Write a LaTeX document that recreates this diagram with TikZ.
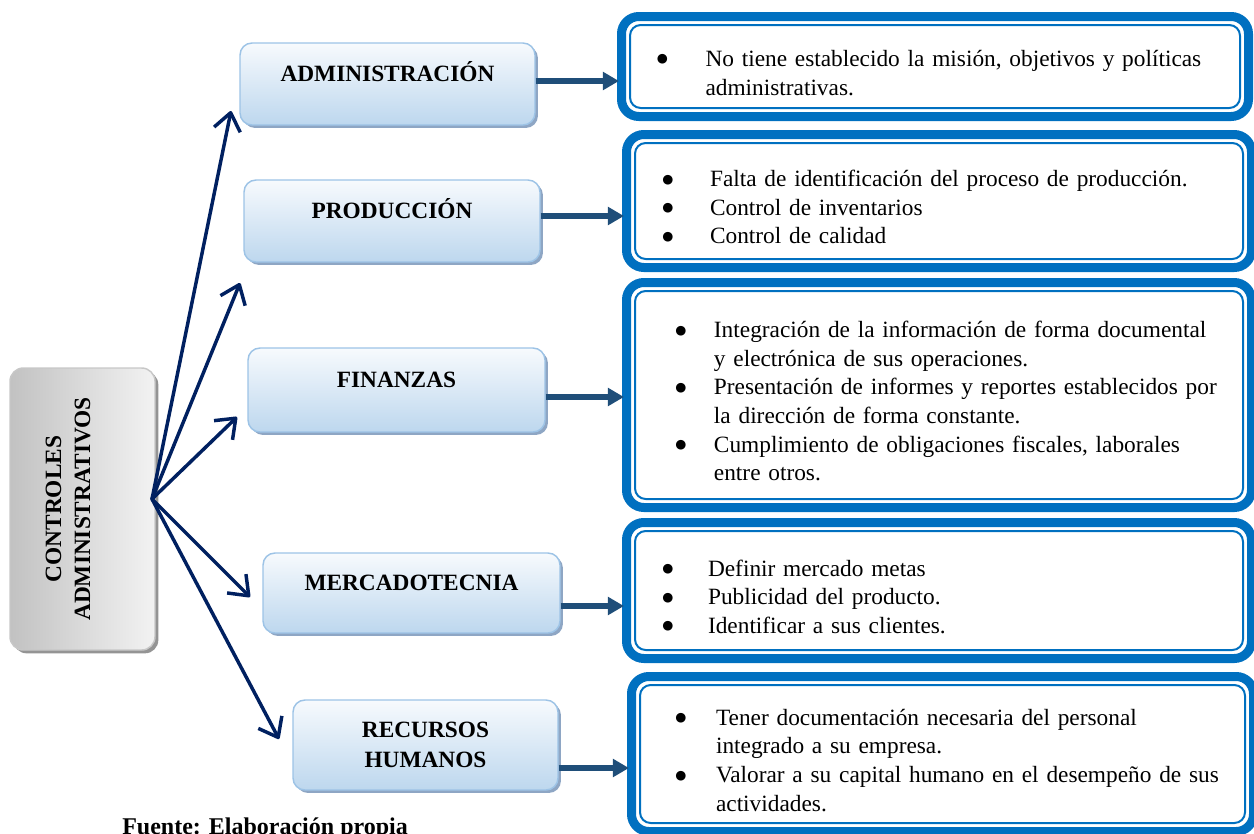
\documentclass[tikz,border=0pt]{standalone}
\usepackage{fontspec}
\setmainfont{Liberation Serif}
\newfontfamily\bulfont{DejaVu Sans}
\usetikzlibrary{arrows.meta,shadows,calc}
\definecolor{navy}{HTML}{002060}
\definecolor{steel}{HTML}{1F4E79}
\definecolor{boxblue}{HTML}{0070C0}
\definecolor{lbtop}{HTML}{F7FAFD}
\definecolor{lbbot}{HTML}{BDD7EE}
\definecolor{lbline}{HTML}{9DC3E6}
\definecolor{lbshadow}{HTML}{8EA6C4}
\newcommand{\bigbul}{\raisebox{2.6pt}{\bulfont\fontsize{9.5pt}{9.5pt}\selectfont ●}}
\newcommand{\bitem}[2]{\par\hangindent=#1\hangafter=1\noindent\makebox[#1][l]{\bigbul}#2}
\begin{document}
\begin{tikzpicture}[x=0.75pt,y=-0.75pt,
  cat/.style={draw=lbline, line width=1.1pt, rounded corners=9pt,
    top color=lbtop, bottom color=lbbot,
    drop shadow={shadow xshift=2.2pt, shadow yshift=-2.2pt, fill=lbshadow, opacity=1},
    font=\bfseries\fontsize{17.5pt}{22.5pt}\selectfont, inner sep=0pt},
  catone/.style={cat, text height=11.6pt, text depth=15pt},
  ctrlbox/.style={draw=black!22, line width=1.1pt, rounded corners=10pt,
    left color=black!24, right color=black!5,
    drop shadow={shadow xshift=2.5pt, shadow yshift=-2.5pt, fill=black!42, opacity=1},
    font=\bfseries\fontsize{17.5pt}{21.75pt}\selectfont, inner sep=0pt},
  rbox/.style={draw=boxblue, line width=6.75pt, rounded corners=13pt, fill=white,
    inner sep=0pt, outer sep=0pt, align=left,
    font=\fontsize{17.5pt}{21.5pt}\selectfont},
  inline/.style={draw=boxblue, line width=1.5pt, rounded corners=8pt},
  harrow/.style={draw=steel, line width=4.6pt, -{Triangle[length=12pt,width=13pt]}, shorten >=1.9pt},
  darrow/.style={draw=navy, line width=2.6pt, line cap=round, -{Straight Barb[length=13pt,width=20pt,line join=round]}}
]
\useasboundingbox (0,0) rectangle (1254,833);
\clip (0,0) rectangle (1254,833);

% central box
\node[ctrlbox, minimum width=108.75pt, minimum height=211.5pt] (ctrl) at (82.5,509)
  {\rotatebox{90}{\begin{tabular}{@{}c@{}}CONTROLES\\ADMINISTRATIVOS\end{tabular}}\rule{19pt}{0pt}};

% category boxes
\node[catone, minimum width=221.25pt, minimum height=61.5pt] (adm) at (387.5,84) {ADMINISTRACIÓN};
\node[catone, minimum width=222pt, minimum height=61.5pt] (pro) at (392,221) {PRODUCCIÓN};
\node[catone, minimum width=222.75pt, minimum height=63pt] (fin) at (396.5,390) {FINANZAS};
\node[catone, minimum width=222.75pt, minimum height=60pt] (mer) at (411.5,593) {MERCADOTECNIA};
\node[cat, align=center, minimum width=198.75pt, minimum height=67.5pt] (rh) at (425.5,745) {RECURSOS\\HUMANOS};

% detail boxes
\node[rbox, text width=470.25pt, minimum height=75pt] (r1) at (935,66.5)
  {\leftskip=26.5pt
   \bitem{36.5pt}{No tiene establecido la misión, objetivos y políticas\newline administrativas.}\par};
\node[rbox, text width=468.75pt, minimum height=99.75pt] (r2) at (939,201)
  {\leftskip=26.9pt
   \bitem{35.75pt}{Falta de identificación del proceso de producción.}
   \bitem{35.75pt}{Control de inventarios}
   \bitem{35.75pt}{Control de calidad}\par};
\node[rbox, text width=468.75pt, minimum height=168.75pt] (r3) at (939,395)
  {\leftskip=36.6pt
   \bitem{29pt}{Integración de la información de forma documental\newline y electrónica de sus operaciones.}
   \bitem{29pt}{Presentación de informes y reportes establecidos por\newline la dirección de forma constante.}
   \bitem{29pt}{Cumplimiento de obligaciones fiscales, laborales\newline entre otros.}\par};
\node[rbox, text width=468.75pt, minimum height=102pt] (r4) at (939,590.5)
  {\leftskip=26.9pt
   \bitem{34.25pt}{Definir mercado metas}
   \bitem{34.25pt}{Publicidad del producto.}
   \bitem{34.25pt}{Identificar a sus clientes.}\par};
\node[rbox, text width=466.5pt, minimum height=116.25pt] (r5) at (942.5,754)
  {\leftskip=32.9pt
   \bitem{30.5pt}{Tener documentación necesaria del personal\newline integrado a su empresa.}
   \bitem{30.5pt}{Valorar a su capital humano en el desempeño de sus\newline actividades.}\par};

% inner thin lines of the detail boxes
\foreach \b in {r1,r2,r3,r4,r5}{
  \draw[inline] ([shift={(8.5,8.5)}]\b.north west) rectangle ([shift={(-8.5,-8.5)}]\b.south east);
}

% horizontal arrows
\draw[harrow] ([yshift=2.25pt]adm.east) -- ([yshift=2.25pt]adm.east -| r1.west);
\draw[harrow] ([yshift=3.75pt]pro.east) -- ([yshift=3.75pt]pro.east -| r2.west);
\draw[harrow] ([yshift=-5.25pt]fin.east) -- ([yshift=-5.25pt]fin.east -| r3.west);
\draw[harrow] ([yshift=-9.75pt]mer.east) -- ([yshift=-9.75pt]mer.east -| r4.west);
\draw[harrow] ([yshift=-17.25pt]rh.east) -- ([yshift=-17.25pt]rh.east -| r5.west);

% diagonal arrows
\coordinate (hub) at (152,499);
\coordinate (t1) at (231,111);
\coordinate (t2) at (240,283);
\coordinate (t3) at (237,417);
\coordinate (t4) at (250,597);
\coordinate (t5) at (279,739);
\foreach \t in {t1,t2,t3,t4,t5}{\draw[darrow] (hub) -- (\t);}

% source
\node[anchor=base west, inner sep=0pt, font=\bfseries\fontsize{18pt}{21pt}\selectfont] (src) at (122,834) {Fuente: Elaboración propia};
\end{tikzpicture}
\end{document}
